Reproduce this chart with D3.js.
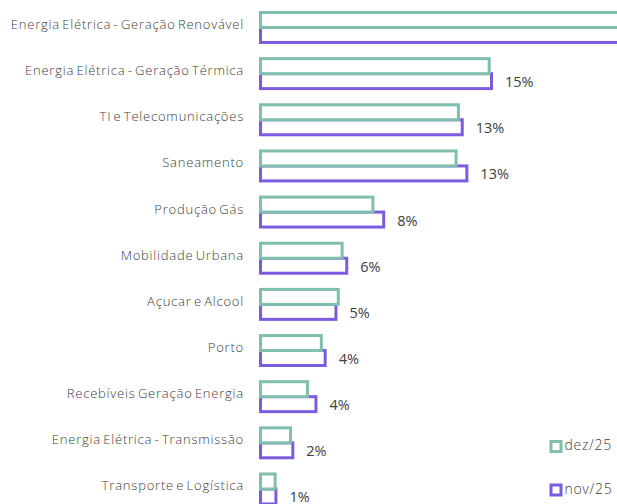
<!DOCTYPE html>
<html>
<head>
<meta charset="utf-8">
<script src="https://cdn.jsdelivr.net/npm/d3@7"></script>
<style>
  html, body { margin: 0; padding: 0; background: #fff; overflow: hidden; }
  svg { display: block; }
</style>
</head>
<body>
<svg id="chart" width="617" height="504"></svg>
<script>
// ---- data ----
const categories = [
  "Energia Elétrica - Geração Renovável",
  "Energia Elétrica - Geração Térmica",
  "TI e Telecomunicações",
  "Saneamento",
  "Produção Gás",
  "Mobilidade Urbana",
  "Açucar e Alcool",
  "Porto",
  "Recebíveis Geração Energia",
  "Energia Elétrica - Transmissão",
  "Transporte e Logística"
];
const seriesNames = ["dez/25", "nov/25"];
const dez25 = [32.0, 14.85, 12.85, 12.7, 7.3, 5.3, 5.05, 3.95, 3.05, 1.95, 0.95];
const nov25 = [29.3, 15.0, 13.1, 13.4, 8.0, 5.6, 4.9, 4.2, 3.6, 2.1, 1.0];
const colors = ["#80bfad", "#7b5be0"];

// ---- chart ----
const W = 617, H = 504;
const svg = d3.select("#chart");

const x = d3.scaleLinear().domain([0, 30]).range([260.5, 260.5 + 30 * 15.4]);
const y0 = d3.scaleBand().domain(categories).range([4.4, 4.4 + 11 * 46.15]).paddingInner(0);
const y1 = d3.scaleBand().domain(seriesNames).range([0, y0.bandwidth()]).paddingInner(0).paddingOuter(0.54);

const labelFont = "'Open Sans', sans-serif";

// category labels
svg.append("g").selectAll("text").data(categories).join("text")
  .attr("x", 244)
  .attr("y", d => y0(d) + y0.bandwidth() / 2 + 1.5)
  .attr("text-anchor", "end")
  .attr("font-family", labelFont)
  .attr("font-weight", 300)
  .attr("font-size", 13)
  .attr("letter-spacing", 0.78)
  .attr("word-spacing", -1.8)
  .attr("fill", "#404040")
  .text(d => d);

const rows = categories.map((c, i) => ({ c, dez: dez25[i], nov: nov25[i] }));

const bars = svg.append("g");
// nov (purple) first, then dez (teal) on top
bars.selectAll("rect.nov").data(rows).join("rect")
  .attr("class", "nov")
  .attr("x", x(0))
  .attr("y", d => y0(d.c) + y1("nov/25"))
  .attr("width", d => x(d.nov) - x(0))
  .attr("height", y1.bandwidth())
  .attr("fill", "#fff")
  .attr("stroke", colors[1])
  .attr("stroke-width", 3);

bars.selectAll("rect.dez").data(rows).join("rect")
  .attr("class", "dez")
  .attr("x", x(0))
  .attr("y", d => y0(d.c) + y1("dez/25"))
  .attr("width", d => x(d.dez) - x(0))
  .attr("height", y1.bandwidth())
  .attr("fill", "#fff")
  .attr("stroke", colors[0])
  .attr("stroke-width", 3);

// value labels (nov/25) — only those that fall inside the visible width
const fmt = d3.format(".0%");
svg.append("g").selectAll("text").data(rows.filter(d => x(d.nov) + 40 < W)).join("text")
  .attr("x", d => x(d.nov) + 13.5)
  .attr("y", d => y0(d.c) + y1("nov/25") + y1.bandwidth() / 2 + 6)
  .attr("font-family", "'Open Sans', sans-serif")
  .attr("font-size", 14.5)
  .attr("fill", "#404040")
  .text(d => fmt(d.nov / 100));

// legend
const legend = svg.append("g");
const legY = [441.5, 485];
seriesNames.forEach((s, i) => {
  legend.append("rect")
    .attr("x", 551).attr("y", legY[i])
    .attr("width", 10).attr("height", 10)
    .attr("fill", "#fff")
    .attr("stroke", colors[i]).attr("stroke-width", 3);
  legend.append("text")
    .attr("x", 564.5).attr("y", legY[i] + 8.5)
    .attr("font-family", labelFont)
    .attr("font-weight", 300)
    .attr("font-size", 14)
    .attr("letter-spacing", 0.7)
    .attr("fill", "#404040")
    .text(s);
});
</script>
</body>
</html>
